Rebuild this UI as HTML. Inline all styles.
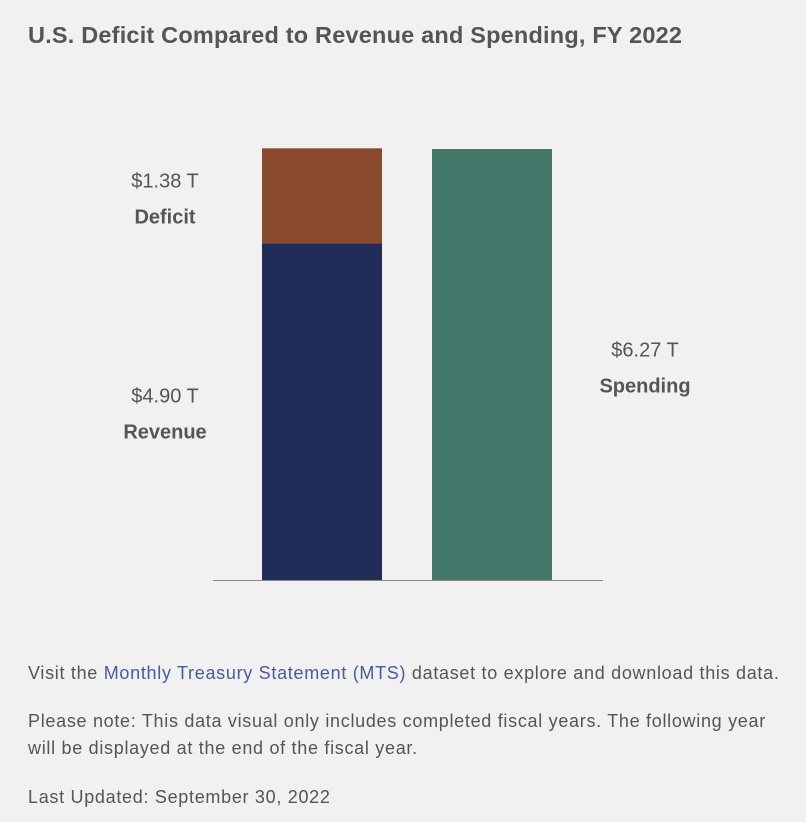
<!DOCTYPE html>
<html><head><meta charset="utf-8"><style>
body{margin:0;width:806px;height:822px;background:#f1f1f1;font-family:"Liberation Sans",sans-serif;color:#555;position:relative;overflow:hidden}
.t{position:absolute;left:28px;top:22px;font-size:23.5px;letter-spacing:0.2px;font-weight:bold;color:#555;margin:0}
.p{position:absolute;left:28px;font-size:18px;letter-spacing:0.7px;color:#555;margin:0;line-height:27px;width:748px}
a{color:#4a5a9a;text-decoration:none}
</style></head><body>
<h1 class="t">U.S. Deficit Compared to Revenue and Spending, FY 2022</h1>
<svg id="chart" width="806" height="600" style="position:absolute;left:0;top:0"></svg>
<p class="p" style="top:660px;white-space:nowrap;width:auto">Visit the <a href="#">Monthly Treasury Statement (MTS)</a> dataset to explore and download this data.</p>
<p class="p" style="top:708px">Please note: This data visual only includes completed fiscal years. The following year will be displayed at the end of the fiscal year.</p>
<p class="p" style="top:784px">Last Updated: September 30, 2022</p>
<script>
const revenue = 4.90;
const deficit = 1.38;
const spending = 6.27;
const valueLabels = ["$1.38 T", "$4.90 T", "$6.27 T"];
const NS = "http://www.w3.org/2000/svg";
const svg = document.getElementById('chart');
const base = 580, pxPerT = 431 / 6.27;
const y = v => base - v * pxPerT;
function mk(tag, attrs, text){const e=document.createElementNS(NS,tag);for(const k in attrs)e.setAttribute(k,attrs[k]);if(text)e.textContent=text;svg.appendChild(e);return e;}
let e;
e = mk('rect',{x:262,y:y(revenue),width:120,height:revenue*pxPerT,fill:'#202d58'});


e = mk('rect',{x:262,y:y(revenue+deficit),width:120,height:deficit*pxPerT,fill:'#8a4a2e'});


e = mk('rect',{x:432,y:y(spending),width:120,height:spending*pxPerT,fill:'#43786a'});


e = mk('line',{x1:213,x2:603,y1:base+0.5,y2:base+0.5,stroke:'#888','stroke-width':1});


const ts = 'font-family:"Liberation Sans",sans-serif;fill:#555';
function lab(x, cy, val, name, nm){
  let a = mk('text',{x:x,y:cy-7,'text-anchor':'middle','font-size':20,style:ts},val);
  
  
  let b = mk('text',{x:x,y:cy+29,'text-anchor':'middle','font-size':20,'font-weight':'bold',style:ts},name);
  
  
}
lab(165, (y(revenue+deficit)+y(revenue))/2 - 1, valueLabels[0], 'Deficit', 'deficit');
lab(165, (y(revenue)+base)/2 - 2, valueLabels[1], 'Revenue', 'revenue');
lab(645, (y(spending)+base)/2 - 1, valueLabels[2], 'Spending', 'spending');
</script>
</body></html>
